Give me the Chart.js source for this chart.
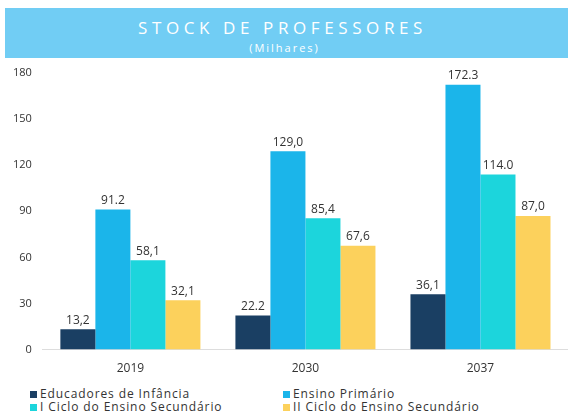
<!DOCTYPE html>
<html>
<head>
<meta charset="utf-8">
<script src="https://cdn.jsdelivr.net/npm/chart.js@4/dist/chart.umd.min.js"></script>
<style>
body { margin: 0; width: 568px; height: 416px; background: #fff; font-family: "Open Sans", sans-serif; overflow: hidden; position: relative; }
.banner { position: absolute; left: 5px; top: 8px; width: 563px; height: 50px; background: #71cdf4; color: #fff; text-align: center; }
.banner .t { font-size: 17px; letter-spacing: 4.6px; margin-top: 10px; line-height: 20px; padding-right: 8px; }
.banner .s { font-size: 11px; letter-spacing: 2px; line-height: 12px; margin-top: 4px; padding-right: 4px; }
.wrap { position: absolute; left: 0; top: 58px; width: 568px; height: 322px; }
.legend { position: absolute; top: 387px; left: 30px; width: 538px; font-size: 12px; letter-spacing: 0.9px; color: #333; }
.legend div { position: absolute; white-space: nowrap; line-height: 13px; }
.legend span { display: inline-block; width: 7px; height: 7px; margin-right: 3px; }
</style>
</head>
<body>
<div class="banner"><div class="t">STOCK DE PROFESSORES</div><div class="s">(Milhares)</div></div>
<div class="wrap"><canvas id="chart"></canvas></div>
<div class="legend" id="legend"></div>
<script>
// categorias e series
const years = ['2019', '2030', '2037'];
const names = ['Educadores de Infância', 'Ensino Primário', 'I Ciclo do Ensino Secundário', 'II Ciclo do Ensino Secundário'];
const educadores = [13.2, 22.2, 36.1];
const primario = [91.2, 129.0, 172.3];
const ciclo1 = [58.1, 85.4, 114.0];
const ciclo2 = [32.1, 67.6, 87.0];
// rotulos como aparecem no grafico
const educadoresLbl = ['13,2', '22.2', '36,1'];
const primarioLbl = ['91.2', '129,0', '172.3'];
const ciclo1Lbl = ['58,1', '85,4', '114.0'];
const ciclo2Lbl = ['32,1', '67,6', '87,0'];
const colors = ['#1a3f63', '#1bb5ea', '#1cd5dc', '#fcd15c'];

const series = [educadores, primario, ciclo1, ciclo2];
const labelsPerSeries = [educadoresLbl, primarioLbl, ciclo1Lbl, ciclo2Lbl];

const barLabels = {
  id: 'barLabels',
  afterDatasetsDraw(chart) {
    const ctx = chart.ctx;
    ctx.save();
    ctx.font = '12px "Open Sans", sans-serif';
    ctx.fillStyle = '#333';
    ctx.textAlign = 'center';
    ctx.textBaseline = 'bottom';
    chart.data.datasets.forEach(function(ds, i) {
      chart.getDatasetMeta(i).data.forEach(function(bar, j) {
        ctx.fillText(labelsPerSeries[i][j], bar.x, bar.y - 3);
      });
    });
    ctx.restore();
  }
};

const chart = new Chart(document.getElementById('chart'), {
  type: 'bar',
  data: {
    labels: years,
    datasets: series.map(function(d, i) {
      return { label: names[i], data: d, backgroundColor: colors[i], barPercentage: 1.0, categoryPercentage: 0.8 };
    })
  },
  options: {
    responsive: true,
    maintainAspectRatio: false,
    animation: false,
    layout: { padding: { top: 15, right: 0, left: 10, bottom: 0 } },
    plugins: { legend: { display: false }, tooltip: { enabled: false } },
    scales: {
      x: {
        grid: { display: false },
        border: { display: true, color: '#ddd', dash: [1, 3] },
        ticks: { color: '#333', font: { family: 'Open Sans', size: 12 }, padding: 4 }
      },
      y: {
        min: 0, max: 180,
        grid: { display: false },
        border: { display: false },
        ticks: { stepSize: 30, color: '#333', font: { family: 'Open Sans', size: 11 }, padding: 3 }
      }
    }
  },
  plugins: [barLabels]
});

const legend = document.getElementById('legend');
names.forEach(function(n, i) {
  const d = document.createElement('div');
  d.style.left = (i % 2 ? 253 : 0) + 'px';
  d.style.top = (i < 2 ? 0 : 13) + 'px';
  d.innerHTML = '<span style="background:' + colors[i] + '"></span>' + n;
  legend.appendChild(d);
});
</script>
</body>
</html>
